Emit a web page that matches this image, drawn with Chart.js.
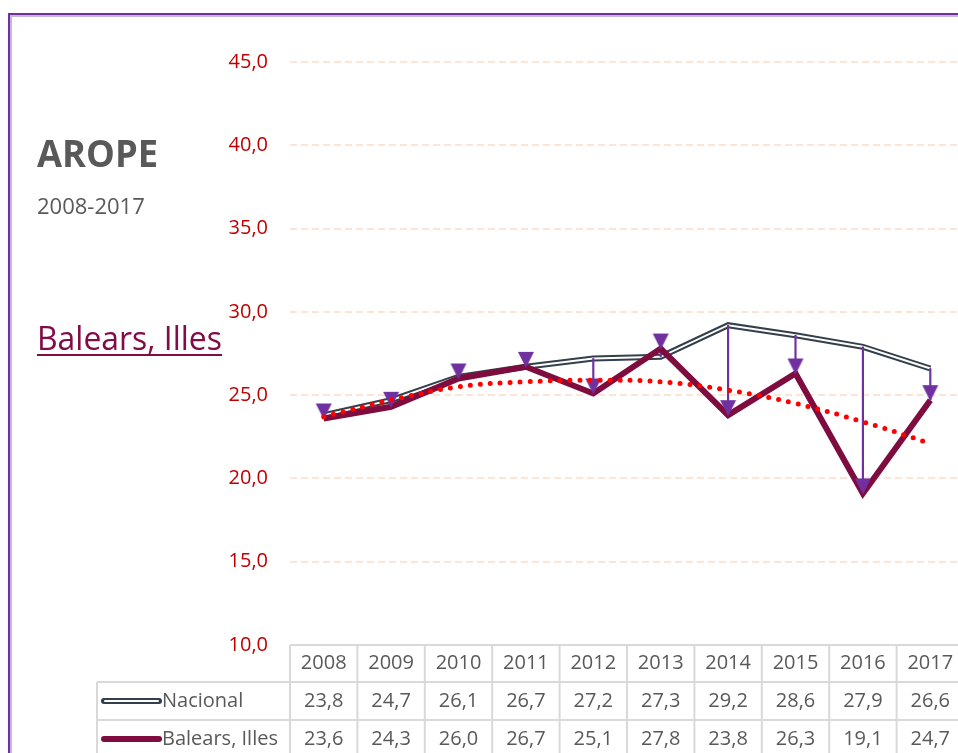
<!DOCTYPE html>
<html>
<head>
<meta charset="utf-8">
<script src="https://cdn.jsdelivr.net/npm/chart.js@4/dist/chart.umd.min.js"></script>
<style>
    html, body { margin: 0; padding: 0; background: #fff; overflow: hidden; }
    #wrap { position: relative; width: 968px; height: 753px; overflow: hidden; }
    #chart { position: absolute; left: 0; top: 0; }
</style>
</head>
<body>
<div id="wrap"><canvas id="chart" width="968" height="753"></canvas></div>
<script>
// chart data
const years    = ['2008', '2009', '2010', '2011', '2012', '2013', '2014', '2015', '2016', '2017'];
const nacional = [23.8, 24.7, 26.1, 26.7, 27.2, 27.3, 29.2, 28.6, 27.9, 26.6];
const balears  = [23.6, 24.3, 26.0, 26.7, 25.1, 27.8, 23.8, 26.3, 19.1, 24.7];
// dotted trend line of Balears
const trend    = [23.7, 24.7, 25.5, 25.8, 25.9, 25.8, 25.3, 24.5, 23.4, 22.1];
const yMin = 10, yMax = 45, yStep = 5;

const seriesNames = ['Nacional', 'Balears, Illes'];
const title    = 'AROPE';
const subtitle = '2008-2017';

const fmt = v => v.toFixed(1).replace('.', ',');

// down triangle marker, apex sits on the point
const tri = document.createElement('canvas');
tri.width  = 18;
tri.height = 34;
const tc = tri.getContext('2d');
tc.fillStyle = '#7030A0';
tc.beginPath();
tc.moveTo(1, 2);
tc.lineTo(17, 2);
tc.lineTo(9, 18);
tc.closePath();
tc.fill();

const sideText = {
    id: 'sideText',
    beforeDraw(chart) {
        const ctx = chart.ctx;
        ctx.save();
        // frame
        ctx.fillStyle = '#7030A0';
        ctx.fillRect(8, 13, 2, 760);
        ctx.fillRect(8, 13, 960, 2);
        ctx.fillStyle = '#C9B6E0';
        ctx.fillRect(10, 15, 2, 760);
        ctx.fillRect(10, 15, 960, 2);

        ctx.textBaseline = 'alphabetic';
        ctx.textAlign = 'left';
        ctx.fillStyle = '#595959';
        ctx.font = 'bold 37px "Open Sans"';
        ctx.fillText(title, 37, 167, 121);
        ctx.font = '22px "Open Sans"';
        ctx.fillText(subtitle, 37, 214, 108);

        ctx.fillStyle = '#820C45';
        ctx.font = '32px "Open Sans"';
        const w = Math.min(ctx.measureText(seriesNames[1]).width, 185);
        ctx.fillText(seriesNames[1], 37, 350, 185);
        ctx.fillRect(37, 354, w, 2);
        ctx.restore();
    }
};

const dataTable = {
    id: 'dataTable',
    afterDraw(chart) {
        const ctx = chart.ctx,
              x   = chart.scales.x,
              colW  = x.getPixelForValue(1) - x.getPixelForValue(0),
              left  = x.getPixelForValue(0) - colW / 2,
              right = left + colW * years.length,
              top   = chart.chartArea.bottom,
              rows  = [top, top + 37, top + 75, top + 113],
              legL  = 97;

        ctx.save();
        ctx.strokeStyle = '#D9D9D9';
        ctx.lineWidth = 2;
        ctx.beginPath();
        ctx.moveTo(left, rows[0]);  ctx.lineTo(right, rows[0]);
        ctx.moveTo(legL, rows[1]);  ctx.lineTo(right, rows[1]);
        ctx.moveTo(legL, rows[2]);  ctx.lineTo(right, rows[2]);
        ctx.moveTo(legL, rows[1]);  ctx.lineTo(legL, rows[3]);
        for (let i = 0; i <= years.length; i++) {
            ctx.moveTo(left + i * colW, rows[0]);
            ctx.lineTo(left + i * colW, rows[3]);
        }
        ctx.stroke();

        ctx.fillStyle = '#595959';
        ctx.font = '20px "Open Sans"';
        ctx.textAlign = 'center';
        ctx.textBaseline = 'middle';
        years.forEach((yr, i) => {
            const cx = x.getPixelForValue(i);
            ctx.fillText(yr, cx, (rows[0] + rows[1]) / 2);
            ctx.fillText(fmt(nacional[i]), cx, (rows[1] + rows[2]) / 2);
            ctx.fillText(fmt(balears[i]), cx, (rows[2] + rows[3]) / 2);
        });

        // legend keys
        const y1 = (rows[1] + rows[2]) / 2, y2 = (rows[2] + rows[3]) / 2;
        ctx.lineCap = 'round';
        ctx.strokeStyle = '#333F4A';
        ctx.lineWidth = 6;
        ctx.beginPath(); ctx.moveTo(104, y1); ctx.lineTo(159, y1); ctx.stroke();
        ctx.strokeStyle = '#FFFFFF';
        ctx.lineWidth = 2;
        ctx.beginPath(); ctx.moveTo(105, y1); ctx.lineTo(158, y1); ctx.stroke();
        ctx.strokeStyle = '#7F0C3F';
        ctx.lineWidth = 6;
        ctx.beginPath(); ctx.moveTo(104, y2); ctx.lineTo(159, y2); ctx.stroke();

        ctx.textAlign = 'left';
        ctx.fillText(seriesNames[0], 162, y1);
        ctx.fillText(seriesNames[1], 162, y2);
        ctx.restore();
    }
};

new Chart(document.getElementById('chart'), {
    type: 'line',
    data: {
        labels: years,
        datasets: [
            {
                label: seriesNames[0],
                data: nacional,
                borderColor: '#333F4A',
                borderWidth: 6,
                pointRadius: 0,
                order: 6
            },
            {
                data: nacional,
                borderColor: '#FFFFFF',
                borderWidth: 2,
                pointRadius: 0,
                order: 5
            },
            {
                type: 'bar',
                data: years.map((_, i) => [balears[i], nacional[i]]),
                backgroundColor: '#7030A0',
                barThickness: 1.5,
                order: 4
            },
            {
                label: seriesNames[1],
                data: balears,
                borderColor: '#7F0C3F',
                borderWidth: 6,
                pointStyle: tri,
                pointRadius: 9,
                order: 3
            },
            {
                data: trend,
                borderColor: '#FF0000',
                borderWidth: 5,
                borderDash: [0, 10],
                borderCapStyle: 'round',
                pointRadius: 0,
                tension: 0.4,
                order: 2
            }
        ]
    },
    options: {
        responsive: false,
        animation: false,
        devicePixelRatio: 1,
        // plot runs past the right edge of the window, as in the reference
        layout: { autoPadding: false, padding: { top: 62, bottom: 108, left: 0, right: 4 } },
        plugins: { legend: { display: false }, tooltip: { enabled: false } },
        scales: {
            x: { display: false, offset: true },
            y: {
                min: yMin,
                max: yMax,
                afterFit: s => { s.width = 290; },
                border: { display: false, dash: [7, 4] },
                grid: { color: '#FCE4D6', lineWidth: 2, drawTicks: false },
                ticks: {
                    stepSize: yStep,
                    padding: 22,
                    color: '#C00000',
                    font: { family: 'Open Sans', size: 20 },
                    callback: v => fmt(v)
                }
            }
        }
    },
    plugins: [sideText, dataTable]
});
</script>
</body>
</html>
